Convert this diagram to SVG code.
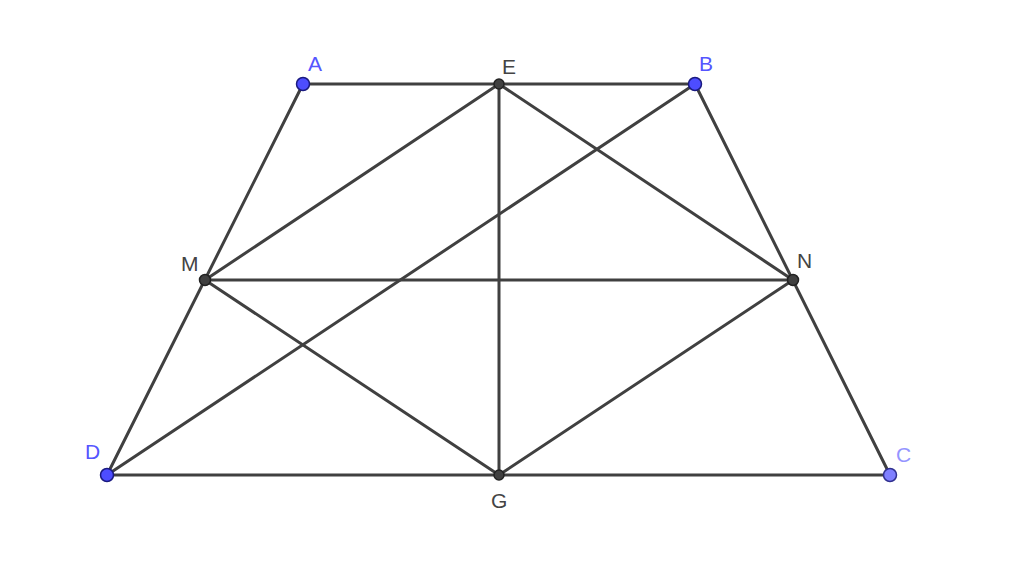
<svg xmlns="http://www.w3.org/2000/svg" width="1024" height="562" viewBox="0 0 1024 562">
<style>
.l{stroke:#404040;stroke-width:3;fill:none;stroke-linecap:round}
.pb{fill:#4d4dff;stroke:#1a1a80;stroke-width:1.5}
.pc{fill:#8080ff;stroke:#303090;stroke-width:1.5}
.pk{fill:#404040;stroke:#222;stroke-width:1.5}
text{font-family:"Liberation Sans",Arial,sans-serif;font-size:21px}
.tb{fill:#5555ff}
.tc{fill:#9595ff}
.tk{fill:#444}
</style>
<rect width="1024" height="562" fill="#fff"/>
<g id="connectors">
<line class="l" x1="303" y1="84" x2="695" y2="84"/>
<line class="l" x1="303" y1="84" x2="107" y2="475"/>
<line class="l" x1="695" y1="84" x2="890" y2="475"/>
<line class="l" x1="107" y1="475" x2="890" y2="475"/>
<line class="l" x1="499" y1="84" x2="499" y2="475"/>
<line class="l" x1="205" y1="280" x2="793" y2="280"/>
<line class="l" x1="205" y1="280" x2="499" y2="84"/>
<line class="l" x1="499" y1="84" x2="793" y2="280"/>
<line class="l" x1="205" y1="280" x2="499" y2="475"/>
<line class="l" x1="499" y1="475" x2="793" y2="280"/>
<line class="l" x1="107" y1="475" x2="695" y2="84"/>
</g>
<g id="A"><circle class="pb" cx="303" cy="84" r="6.5"/><text class="tb" x="308" y="71">A</text></g>
<g id="E"><circle class="pk" cx="499" cy="84" r="5"/><text class="tk" x="502" y="74">E</text></g>
<g id="B"><circle class="pb" cx="695" cy="84" r="6.5"/><text class="tb" x="699" y="71">B</text></g>
<g id="M"><circle class="pk" cx="205" cy="280" r="5.5"/><text class="tk" x="181" y="271">M</text></g>
<g id="N"><circle class="pk" cx="793" cy="280" r="5.5"/><text class="tk" x="797" y="268">N</text></g>
<g id="D"><circle class="pb" cx="107" cy="475" r="6.5"/><text class="tb" x="85" y="459">D</text></g>
<g id="G"><circle class="pk" cx="499" cy="475" r="5"/><text class="tk" x="491" y="508">G</text></g>
<g id="C"><circle class="pc" cx="890" cy="475" r="6.5"/><text class="tc" x="896" y="462">C</text></g>
</svg>
